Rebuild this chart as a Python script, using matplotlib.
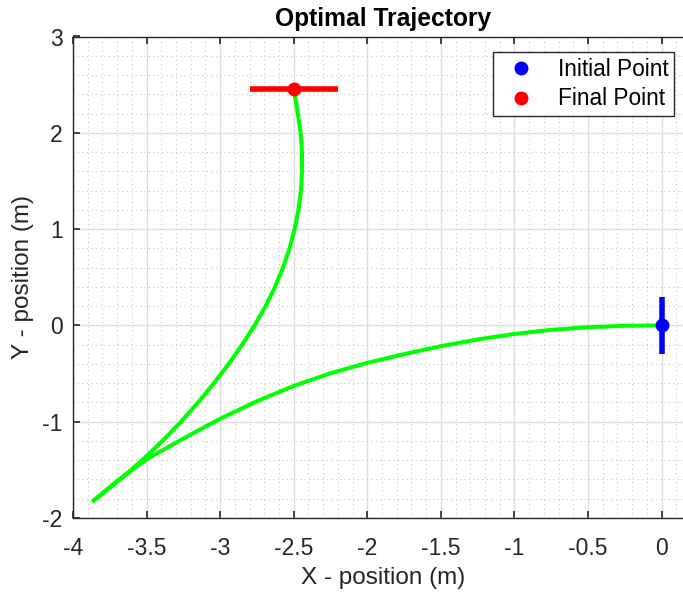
import matplotlib
matplotlib.use("Agg")
import matplotlib.pyplot as plt
from matplotlib.lines import Line2D
from matplotlib.ticker import MultipleLocator

plt.rcParams['font.family'] = ['Liberation Sans', 'DejaVu Sans']
plt.rcParams['axes.unicode_minus'] = False

# Trajectory: first leg from initial point to the cusp
leg1_x = [0.0, -0.25, -0.5, -0.75, -1.0, -1.25, -1.5, -1.75, -2.0, -2.25, -2.5,
          -2.75, -3.0, -3.25, -3.5, -3.7, -3.86]
leg1_y = [0.0, -0.004, -0.019, -0.046, -0.089, -0.146, -0.216, -0.298, -0.389, -0.497,
          -0.629, -0.787, -0.969, -1.175, -1.39, -1.615, -1.82]
# Second leg from the cusp to the final point
leg2_x = [-3.86, -3.68, -3.53, -3.392, -3.266, -3.15, -3.042, -2.942, -2.85, -2.766,
          -2.691, -2.627, -2.573, -2.528, -2.494, -2.468, -2.451, -2.443, -2.444,
          -2.453, -2.472, -2.5]
leg2_y = [-1.82, -1.6, -1.4, -1.2, -1.0, -0.8, -0.6, -0.4, -0.2, 0.0,
          0.2, 0.4, 0.6, 0.8, 1.0, 1.2, 1.4, 1.6, 1.8,
          2.0, 2.2, 2.455]

initial_pt = (0.0, 0.0)
final_pt = (-2.5, 2.455)
bar_half = 0.3

xticks = [-4, -3.5, -3, -2.5, -2, -1.5, -1, -0.5, 0]
xtick_labels = ['-4', '-3.5', '-3', '-2.5', '-2', '-1.5', '-1', '-0.5', '0']
yticks = [-2, -1, 0, 1, 2, 3]
ytick_labels = ['-2', '-1', '0', '1', '2', '3']

fig = plt.figure(figsize=(6.83, 5.96), dpi=100)
ax = fig.add_axes([73/683, 1-518/596, (694-73)/683, (518-36.5)/596])

ax.plot(leg1_x, leg1_y, color=(0, 1, 0), lw=2.9, solid_capstyle='round',
        solid_joinstyle='round', zorder=3)
ax.plot(leg2_x, leg2_y, color=(0, 1, 0), lw=2.9, solid_capstyle='round',
        solid_joinstyle='round', zorder=3)

# orientation bars
ax.plot([initial_pt[0], initial_pt[0]], [initial_pt[1]-bar_half, initial_pt[1]+bar_half],
        color='#0000ff', lw=4.0, solid_capstyle='butt', zorder=4)
ax.plot([final_pt[0]-bar_half, final_pt[0]+bar_half], [final_pt[1], final_pt[1]],
        color='#ff0000', lw=4.0, solid_capstyle='butt', zorder=4)
ax.plot([initial_pt[0]], [initial_pt[1]], 'o', color='#0000ff', ms=9, zorder=5)
ax.plot([final_pt[0]], [final_pt[1]], 'o', color='#ff0000', ms=9, zorder=5)

ax.set_xlim(-4, 0.22)
ax.set_ylim(-2, 3)
ax.set_xticks(xticks)
ax.set_xticklabels(xtick_labels)
ax.set_yticks(yticks)
ax.set_yticklabels(ytick_labels)
ax.xaxis.set_minor_locator(MultipleLocator(0.1))
ax.yaxis.set_minor_locator(MultipleLocator(0.2))

ax.grid(True, which='major', color='#dedede', lw=1.0, ls='-', zorder=0)
ax.grid(True, which='minor', color='#c8c8c8', lw=0.8, ls=(0, (1, 3)), zorder=0)
ax.set_axisbelow(True)

ax.tick_params(which='major', direction='in', length=5, width=1.2, color='#262626',
               top=True, right=True, labelsize=16.5, labelcolor='#262626')
ax.tick_params(axis='x', which='major', pad=13.5)
ax.tick_params(axis='y', which='major', pad=7.5)
ax.tick_params(which='minor', length=0, top=True, right=True)
for s in ax.spines.values():
    s.set_color('#262626')
    s.set_linewidth(1.0)

ax.set_xlabel('X - position (m)', fontsize=17.5, color='#262626', labelpad=5)
ax.set_ylabel('Y - position (m)', fontsize=17.5, color='#262626', labelpad=6)
fig.text(383/683, 1-26/596, 'Optimal Trajectory', ha='center', va='baseline',
         fontsize=17.7, fontweight='bold')

handles = [Line2D([], [], ls='none', marker='o', color='#0000ff', ms=9, label='Initial Point'),
           Line2D([], [], ls='none', marker='o', color='#ff0000', ms=9, label='Final Point')]
leg = ax.legend(handles=handles, loc='upper right', bbox_to_anchor=(674/683, 1-52/596),
                bbox_transform=fig.transFigure, borderaxespad=0, fontsize=16.3,
                fancybox=False, framealpha=1, edgecolor='#262626', handletextpad=0.6,
                borderpad=0.25, labelspacing=0.3, handlelength=2.0)
leg.get_frame().set_linewidth(1.0)

fig.savefig('out.png', dpi=100)
